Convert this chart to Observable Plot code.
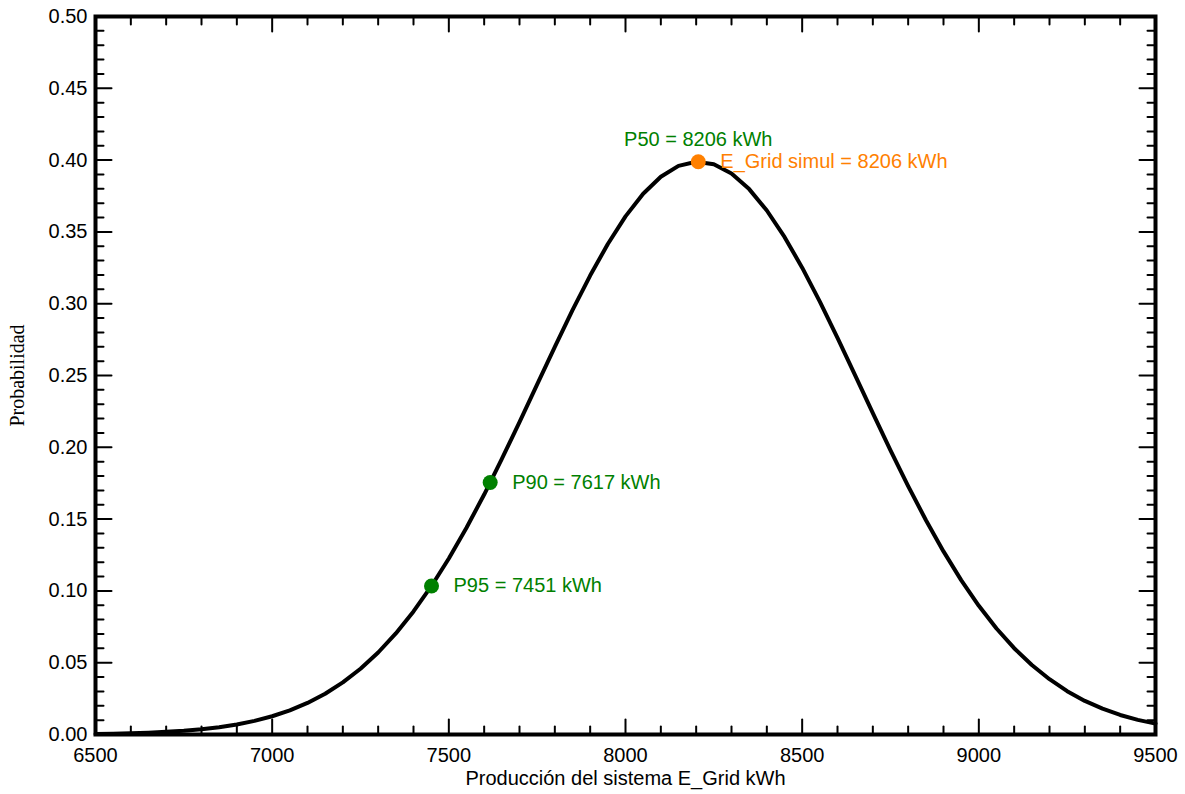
<!DOCTYPE html>
<html>
<head>
<meta charset="utf-8">
<script src="https://cdn.jsdelivr.net/npm/d3@7"></script>
<script src="https://cdn.jsdelivr.net/npm/@observablehq/plot@0.6"></script>
<style>
  html, body { margin: 0; padding: 0; background: #fff; }
</style>
</head>
<body>
<div id="chart"></div>
<script>
// Curve (production kWh -> probability)
const energy = [6500,6550,6600,6650,6700,6750,6800,6850,6900,6950,7000,7050,7100,7150,7200,7250,7300,7350,7400,7450,7500,7550,7600,7650,7700,7750,7800,7850,7900,7950,8000,8050,8100,8150,8200,8250,8300,8350,8400,8450,8500,8550,8600,8650,8700,8750,8800,8850,8900,8950,9000,9050,9100,9150,9200,9250,9300,9350,9400,9450,9500];
const probability = [0.0004,0.0006,0.0009,0.0013,0.0019,0.0026,0.0037,0.0051,0.0070,0.0095,0.0127,0.0168,0.0220,0.0284,0.0363,0.0458,0.0571,0.0704,0.0857,0.1031,0.1226,0.1440,0.1671,0.1919,0.2176,0.2438,0.2700,0.2955,0.3196,0.3416,0.3608,0.3766,0.3884,0.3960,0.3989,0.3971,0.3907,0.3798,0.3649,0.3465,0.3251,0.3014,0.2762,0.2501,0.2238,0.1979,0.1730,0.1494,0.1275,0.1075,0.0896,0.0738,0.0601,0.0484,0.0385,0.0302,0.0234,0.0180,0.0136,0.0102,0.0076];

// Marked percentiles
const pNames = ["P95", "P90"];
const pValues = [7451, 7617];
const pProb = [0.1034, 0.1755];
const p50Name = "P50";
const p50Value = 8206;
const p50Prob = 0.3989;
const simulLabel = "E_Grid simul";

// Ticks
const xMajor = [6500,7000,7500,8000,8500,9000,9500];
const xMinor = d3.range(6500, 9501, 100).filter(v => v % 500 !== 0);
const yMajor = [0,0.05,0.10,0.15,0.20,0.25,0.30,0.35,0.40,0.45,0.50];
const yMinor = d3.range(0, 51, 1).filter(v => v % 5 !== 0).map(v => v / 100);

const xLabel = "Producción del sistema E_Grid kWh";
const yLabel = "Probabilidad";

const curve = energy.map((e, i) => ({e, p: probability[i]}));
const pts = pNames.map((n, i) => ({n, v: pValues[i], p: pProb[i]}));

const GREEN = "#008000";
const ORANGE = "#ff8000";

const tickShape = {draw(ctx, l) { ctx.moveTo(0, 0); ctx.lineTo(0, -l); }};
function ticksY(values, len, side) {
  return Plot.vector(values, {y: d => d, frameAnchor: side, length: len, rotate: side === "left" ? 90 : -90,
    anchor: "start", shape: tickShape, stroke: "black", strokeWidth: 2});
}
function ticksX(values, len, side) {
  return Plot.vector(values, {x: d => d, frameAnchor: side, length: len, rotate: side === "bottom" ? 0 : 180,
    anchor: "start", shape: tickShape, stroke: "black", strokeWidth: 2});
}

const chart = Plot.plot({
  width: 1185,
  height: 794,
  marginLeft: 95,
  marginRight: 30,
  marginTop: 16,
  marginBottom: 60,
  style: {fontFamily: "'Liberation Sans', Arial, sans-serif", fontSize: "20px", background: "white", color: "black"},
  x: {domain: [6500, 9500]},
  y: {domain: [0, 0.5]},
  marks: [
    Plot.axisX(xMajor, {tickSize: 0, tickPadding: 13, tickFormat: d => String(d), label: null, fontSize: 20}),
    Plot.axisY(yMajor, {tickSize: 0, tickPadding: 8, tickFormat: d3.format(".2f"), label: null, fontSize: 20}),
    ticksX(xMajor, 15, "bottom"), ticksX(xMinor, 8, "bottom"),
    ticksX(xMajor, 15, "top"), ticksX(xMinor, 8, "top"),
    ticksY(yMajor, 16, "left"), ticksY(yMinor, 8, "left"),
    ticksY(yMajor, 16, "right"), ticksY(yMinor, 8, "right"),
    Plot.line(curve, {x: "e", y: "p", stroke: "black", strokeWidth: 4}),
    Plot.dot(pts, {x: "v", y: "p", r: 7.5, fill: GREEN}),
    Plot.text(pts, {x: "v", y: "p", text: d => `${d.n} = ${d.v} kWh`, dx: 22, textAnchor: "start", fill: GREEN, fontSize: 20}),
    Plot.dot([p50Value], {x: d => d, y: () => p50Prob, r: 7.5, fill: ORANGE}),
    Plot.text([p50Value], {x: d => d, y: () => p50Prob, text: d => `${p50Name} = ${d} kWh`, dy: -22, fill: GREEN, fontSize: 20}),
    Plot.text([p50Value], {x: d => d, y: () => p50Prob, text: d => `${simulLabel} = ${d} kWh`, dx: 22, textAnchor: "start", fill: ORANGE, fontSize: 20}),
    Plot.text([xLabel], {frameAnchor: "bottom", dy: 50, fontSize: 20}),
    Plot.text([yLabel], {frameAnchor: "left", dx: -78, rotate: -90, textAnchor: "middle", fontSize: 20, fontFamily: "'Liberation Serif', 'Times New Roman', serif"}),
    Plot.frame({stroke: "black", strokeWidth: 4})
  ]
});
document.getElementById("chart").appendChild(chart);
</script>
</body>
</html>
